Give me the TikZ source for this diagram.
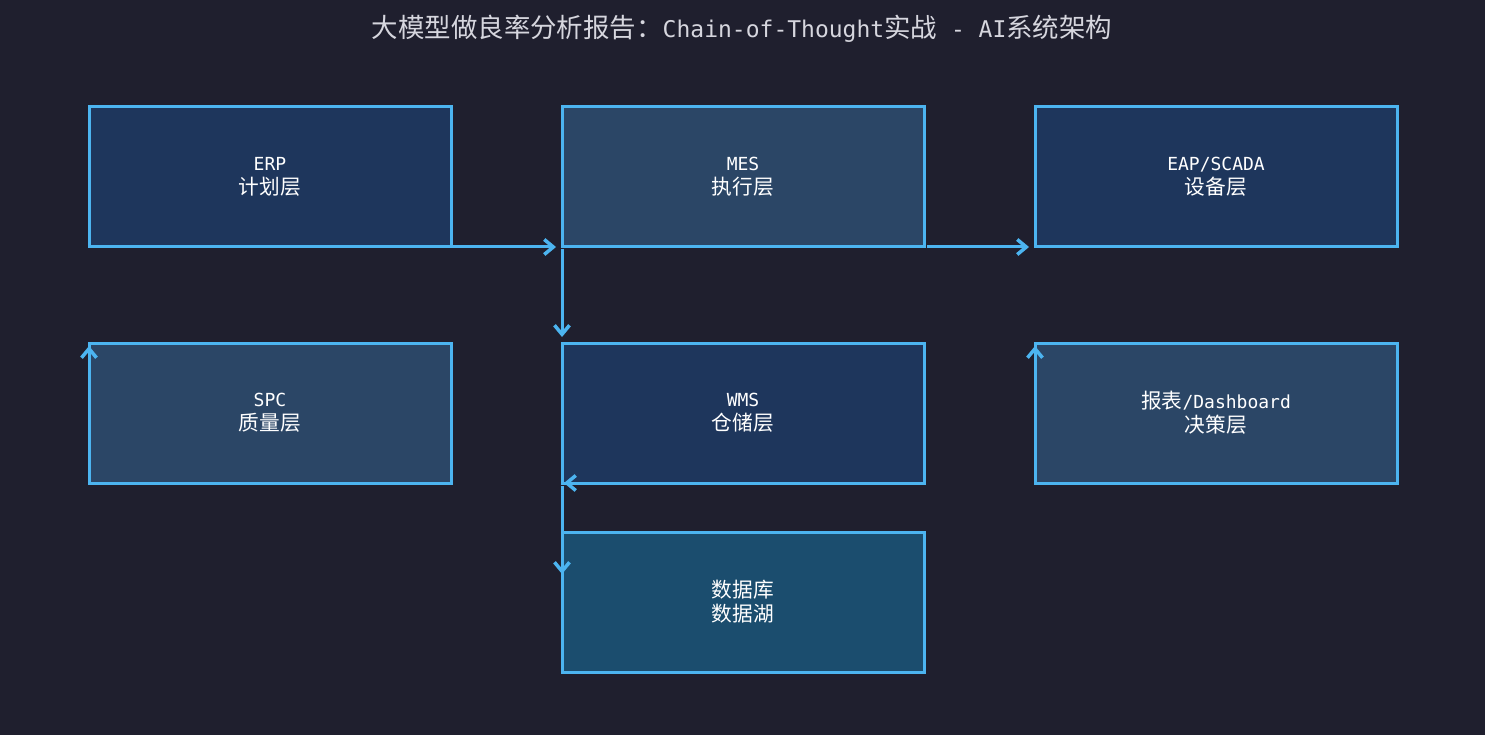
\documentclass[tikz,border=0pt]{standalone}
\usepackage{fontspec}
\setmainfont{DejaVu Sans Mono}
\newfontfamily\cjk[Scale=1.15]{Noto Sans CJK SC}
\usepackage{tikz}
\usetikzlibrary{positioning, arrows.meta}

\definecolor{bgcol}{RGB}{31,31,46}
\definecolor{edgecol}{RGB}{76,180,240}
\definecolor{darkfill}{RGB}{30,54,92}
\definecolor{midfill}{RGB}{43,70,102}
\definecolor{dbfill}{RGB}{27,77,110}
\definecolor{titlecol}{RGB}{214,214,222}

\begin{document}
\begin{tikzpicture}[x=1pt, y=-1pt, ->, >={Straight Barb[length=9pt, width=15pt, line width=3.5pt]}, line width=3pt, draw=edgecol]
    \tikzstyle{layer}=[draw=edgecol, line width=3pt, text=white, minimum width=362pt, minimum height=140pt, inner sep=0pt, outer sep=0pt, align=center, font=\fontsize{18}{24}\selectfont]
    \fill[bgcol] (0,0) rectangle (1485,735);
    \useasboundingbox (0,0) rectangle (1485,735);

    \node[text=titlecol, font=\fontsize{23}{28}\selectfont] (title) at (742,29) {{\cjk 大模型做良率分析报告：}Chain-of-Thought{\cjk 实战} - AI{\cjk 系统架构}};

    \node[layer, fill=darkfill] (erp) at (270,177) {ERP\\{\cjk 计划层}};
    \node[layer, fill=midfill] (mes) at (743,177) {MES\\{\cjk 执行层}};
    \node[layer, fill=darkfill] (eap) at (1216,177) {EAP/SCADA\\{\cjk 设备层}};
    \node[layer, fill=midfill] (spc) at (270,413) {SPC\\{\cjk 质量层}};
    \node[layer, fill=darkfill] (wms) at (743,413) {WMS\\{\cjk 仓储层}};
    \node[layer, fill=midfill] (dash) at (1216,413) {{\cjk 报表}/Dashboard\\{\cjk 决策层}};
    \node[layer, fill=dbfill] (db) at (743,602) {{\cjk 数据库}\\{\cjk 数据湖}};

    \coordinate[below=43pt of spc.north west] (spcin);
    \coordinate[below=43pt of dash.north west] (dashin);
    \coordinate[below=42pt of db.north west] (dbin);

    \path (erp.south) edge [shorten >=6pt] (mes.south west)
          (mes.south west) edge [shorten >=6pt, shorten <=2pt] (wms.north west);
    \path (mes.south east) edge [shorten >=6pt, shorten <=3pt] (eap.south west);
    \path (spcin) edge [shorten >=3pt] (spc.north west)
          (dashin) edge [shorten >=3pt] (dash.north west);
    \path (wms.south east) edge [shorten >=2pt, shorten <=3pt] (wms.south west)
          (wms.south west) edge [shorten <=3pt] (dbin);
\end{tikzpicture}
\end{document}
